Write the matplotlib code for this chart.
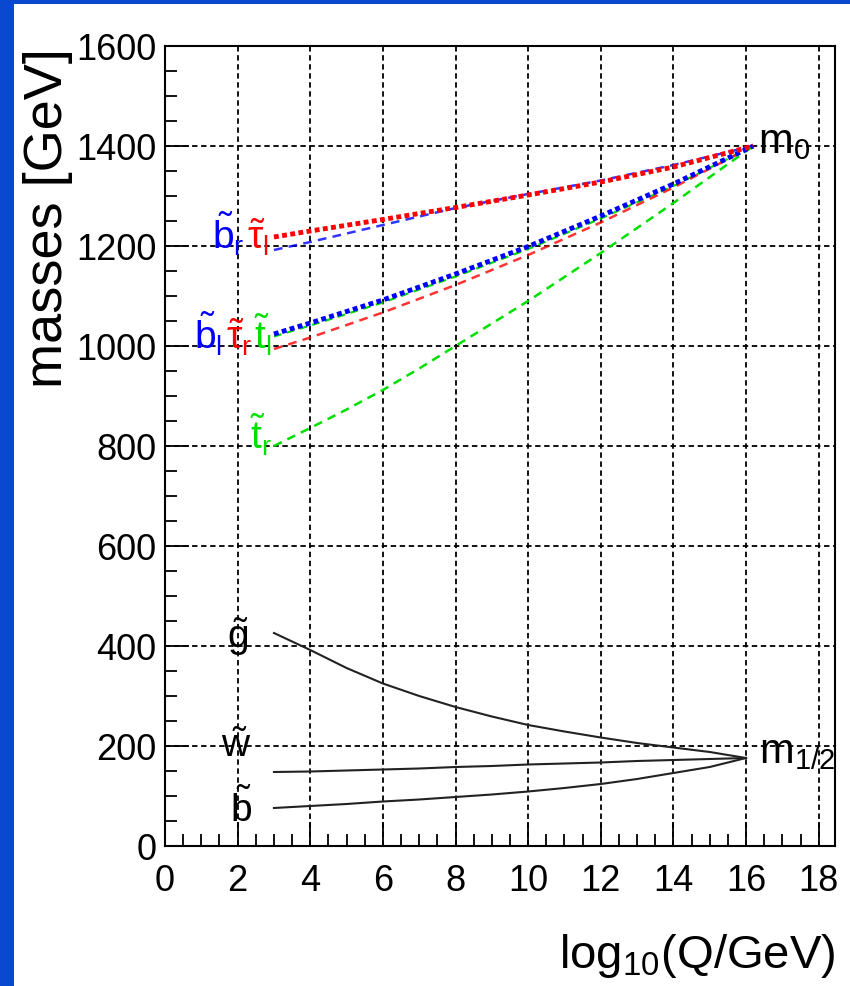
import matplotlib
matplotlib.use("Agg")
import matplotlib.pyplot as plt
from matplotlib.patches import Rectangle
from matplotlib.ticker import MultipleLocator

plt.rcParams['font.family'] = ['Liberation Sans', 'DejaVu Sans']
plt.rcParams['mathtext.fontset'] = 'custom'
plt.rcParams['mathtext.rm'] = 'Liberation Sans'
plt.rcParams['mathtext.it'] = 'Liberation Sans'

# running scalar masses (GeV) vs log10(Q/GeV)
q_scalar = [3, 4, 6, 8, 10, 12, 14, 16.2]
tau_l = [1218, 1230, 1253, 1277, 1302, 1328, 1358, 1400]
b_r = [1192, 1208, 1242, 1276, 1304, 1331, 1362, 1400]
b_l = [1024, 1046, 1092, 1144, 1199, 1260, 1324, 1400]
t_l = [1019, 1041, 1087, 1139, 1194, 1255, 1320, 1400]
tau_r = [994, 1017, 1067, 1122, 1182, 1247, 1317, 1400]

q_tr = [3, 4, 5, 6, 7, 8, 10, 12, 14, 16.2]
t_r = [800, 836, 873, 912, 955, 1000, 1090, 1186, 1286, 1400]

# running gaugino masses
q_gaugino = [3, 4, 5, 6, 7, 8, 9, 10, 11, 12, 13, 14, 15, 16]
gluino = [426, 392, 356, 325, 300, 278, 259, 242, 229, 217, 206, 197, 188, 176]
wino = [148, 149, 151, 153, 155, 158, 160, 163, 165, 167, 170, 172, 174, 176]
bino = [76, 80, 84, 89, 93, 98, 103, 109, 116, 124, 134, 146, 158, 176]

W, H = 850, 987
fig = plt.figure(figsize=(W / 100, H / 100), dpi=100)
fig.patch.set_facecolor('#0a48d0')
fig.add_artist(Rectangle((14 / W, 0), 1 - 14 / W, 1 - 5 / H, transform=fig.transFigure,
                         facecolor='white', edgecolor='none', zorder=0))

ax = fig.add_axes([165 / W, 1 - 847 / H, 670 / W, 800 / H])
ax.set_xlim(0, 18.45)
ax.set_ylim(0, 1600)

green = '#00e000'
dotted = (0, (1.0, 0.7))
dashed = (0, (3.5, 2.5))
ax.plot(q_scalar, t_l, color=green, lw=1.6, linestyle=dashed, zorder=3)
ax.plot(q_scalar, b_l, color='blue', lw=3.5, linestyle=dotted, zorder=4)
ax.plot(q_scalar, tau_r, color='red', lw=1.8, linestyle=dashed, alpha=0.8, zorder=3)
ax.plot(q_scalar, b_r, color='blue', lw=1.8, linestyle=dashed, alpha=0.8, zorder=3)
ax.plot(q_scalar, tau_l, color='red', lw=3.5, linestyle=dotted, zorder=4)
ax.plot(q_tr, t_r, color=green, lw=1.8, linestyle=dashed, zorder=3)

for m in (gluino, wino, bino):
    ax.plot(q_gaugino, m, color='#222222', lw=1.5, zorder=3)

# axes styling
ax.xaxis.set_major_locator(MultipleLocator(2))
ax.xaxis.set_minor_locator(MultipleLocator(0.5))
ax.yaxis.set_major_locator(MultipleLocator(200))
ax.yaxis.set_minor_locator(MultipleLocator(50))
ax.tick_params(which='both', direction='in', top=False, right=False, labelsize=26, width=1.3)
ax.tick_params(which='major', length=17)
ax.tick_params(which='minor', length=8.5)
ax.tick_params(axis='x', which='major', pad=12)
ax.tick_params(axis='y', which='major', pad=6)
for s in ax.spines.values():
    s.set_linewidth(1.5)
ax.grid(True, which='major', color='black', lw=1.3, linestyle=(0, (3, 2)))
ax.set_axisbelow(True)

fig.text(48 / W, 1 - 48 / H, 'masses [GeV]', rotation=90, ha='center', va='top', fontsize=39)
fig.text(835 / W, 1 - 968 / H, r'$\mathregular{log_{10}(Q/GeV)}$', ha='right', va='baseline',
         fontsize=34)

lab = dict(fontsize=28, va='baseline', ha='left')
ax.text(1.30, 1194, r'$\mathregular{\tilde{b}_r}$', color='blue', **lab)
ax.text(2.25, 1194, r'$\mathregular{\tilde{\tau}_l}$', color='red', **lab)
ax.text(0.80, 994, r'$\mathregular{\tilde{b}_l}$', color='blue', **lab)
ax.text(1.68, 994, r'$\mathregular{\tilde{\tau}_r}$', color='red', **lab)
ax.text(2.45, 994, r'$\mathregular{\tilde{t}_l}$', color=green, **lab)
ax.text(2.34, 794, r'$\mathregular{\tilde{t}_r}$', color=green, **lab)
ax.text(1.72, 398, r'$\mathregular{\tilde{g}}$', color='black', **lab)
ax.text(1.55, 180, r'$\mathregular{\tilde{w}}$', color='black', **lab)
ax.text(1.80, 50, r'$\mathregular{\tilde{b}}$', color='black', **lab)
ax.text(16.34, 1388, r'$\mathregular{m_0}$', color='black', fontsize=30, va='baseline', ha='left')
ax.text(16.36, 168, r'$\mathregular{m_{1/2}}$', color='black', fontsize=30, va='baseline', ha='left')

fig.savefig('out.png', dpi=100, facecolor=fig.get_facecolor())
